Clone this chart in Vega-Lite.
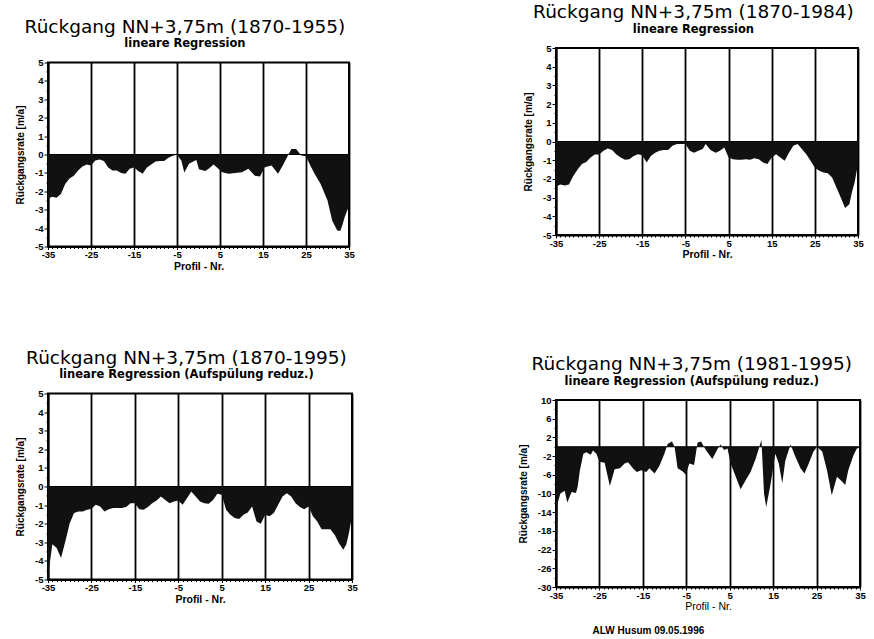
{
  "$schema": "https://vega.github.io/schema/vega-lite/v6.json",
  "background": "white",
  "padding": {"left": 14, "top": 2, "right": 2, "bottom": 0},
  "title": {"text": "ALW Husum 09.05.1996", "orient": "bottom", "anchor": "start", "dx": 578, "offset": 6,
    "font": "Liberation Sans", "fontSize": 10, "fontWeight": "bold", "color": "black", "frame": "bounds"},
  "datasets": {
    "d1": [
      {"p": -35, "v": -2.4}, {"p": -34, "v": -2.3}, {"p": -33, "v": -2.35}, {"p": -32, "v": -2.15}, {"p": -31, "v": -1.6},
      {"p": -30, "v": -1.3}, {"p": -29, "v": -1.15}, {"p": -28, "v": -0.87}, {"p": -27, "v": -0.65}, {"p": -26, "v": -0.55},
      {"p": -25, "v": -0.6}, {"p": -24, "v": -0.33}, {"p": -23, "v": -0.27}, {"p": -22, "v": -0.36}, {"p": -21, "v": -0.7},
      {"p": -20, "v": -0.87}, {"p": -19, "v": -0.87}, {"p": -18, "v": -1.0}, {"p": -17, "v": -1.05}, {"p": -16, "v": -0.78},
      {"p": -15, "v": -0.7}, {"p": -14, "v": -0.9}, {"p": -13, "v": -1.05}, {"p": -12, "v": -0.7}, {"p": -11, "v": -0.55},
      {"p": -10, "v": -0.38}, {"p": -9, "v": -0.36}, {"p": -8, "v": -0.36}, {"p": -7, "v": -0.18}, {"p": -6, "v": -0.07},
      {"p": -5, "v": -0.02}, {"p": -4, "v": -0.33}, {"p": -3.3, "v": -0.98}, {"p": -2.2, "v": -0.5}, {"p": -1, "v": -0.35},
      {"p": -0.5, "v": -0.3}, {"p": 0.1, "v": -0.8}, {"p": 1.6, "v": -0.9}, {"p": 2.5, "v": -0.75}, {"p": 3.5, "v": -0.55},
      {"p": 4.5, "v": -0.75}, {"p": 5.5, "v": -0.96}, {"p": 7, "v": -1.05}, {"p": 8.5, "v": -1.0}, {"p": 10.1, "v": -0.96},
      {"p": 11.6, "v": -0.78}, {"p": 13.1, "v": -1.15}, {"p": 14.3, "v": -1.2}, {"p": 15.4, "v": -0.69}, {"p": 17, "v": -0.6},
      {"p": 18.5, "v": -1.05}, {"p": 19.6, "v": -0.6}, {"p": 20.8, "v": -0.05}, {"p": 21.6, "v": 0.3}, {"p": 22.7, "v": 0.3},
      {"p": 23.9, "v": -0.05}, {"p": 25, "v": -0.1}, {"p": 26, "v": -0.6}, {"p": 27, "v": -1.05}, {"p": 28.4, "v": -1.6},
      {"p": 30, "v": -2.5}, {"p": 31.1, "v": -3.6}, {"p": 32.3, "v": -4.15}, {"p": 33, "v": -4.15}, {"p": 33.5, "v": -3.8},
      {"p": 34, "v": -3.4}, {"p": 35, "v": -2.8}
    ],
    "d2": [
      {"p": -35, "v": -2.4}, {"p": -34, "v": -2.3}, {"p": -33, "v": -2.35}, {"p": -32, "v": -2.3}, {"p": -31, "v": -1.85},
      {"p": -30, "v": -1.5}, {"p": -29, "v": -1.2}, {"p": -28, "v": -1.1}, {"p": -27, "v": -0.85}, {"p": -26, "v": -0.7},
      {"p": -25, "v": -0.7}, {"p": -24, "v": -0.5}, {"p": -23, "v": -0.37}, {"p": -22, "v": -0.45}, {"p": -21, "v": -0.7},
      {"p": -20, "v": -0.85}, {"p": -19, "v": -0.98}, {"p": -18, "v": -0.95}, {"p": -17, "v": -0.77}, {"p": -16, "v": -0.68},
      {"p": -15, "v": -0.73}, {"p": -14, "v": -1.12}, {"p": -13, "v": -0.77}, {"p": -12, "v": -0.6}, {"p": -11, "v": -0.5},
      {"p": -10, "v": -0.45}, {"p": -9, "v": -0.45}, {"p": -8, "v": -0.23}, {"p": -7, "v": -0.14}, {"p": -6, "v": -0.14},
      {"p": -5, "v": -0.14}, {"p": -4, "v": -0.5}, {"p": -3, "v": -0.6}, {"p": -2, "v": -0.5}, {"p": -1, "v": -0.4},
      {"p": -0.3, "v": -0.14}, {"p": 0.8, "v": -0.45}, {"p": 2, "v": -0.6}, {"p": 3, "v": -0.5}, {"p": 4, "v": -0.32},
      {"p": 5, "v": -0.85}, {"p": 6, "v": -0.95}, {"p": 7, "v": -0.98}, {"p": 8, "v": -0.98}, {"p": 9, "v": -0.95},
      {"p": 10, "v": -0.98}, {"p": 11, "v": -0.9}, {"p": 12, "v": -0.95}, {"p": 13, "v": -1.12}, {"p": 14, "v": -1.2},
      {"p": 15, "v": -0.85}, {"p": 16, "v": -0.68}, {"p": 17, "v": -0.85}, {"p": 18, "v": -1.03}, {"p": 19, "v": -0.6},
      {"p": 20, "v": -0.23}, {"p": 21, "v": -0.14}, {"p": 22, "v": -0.4}, {"p": 23, "v": -0.68}, {"p": 24, "v": -1.03},
      {"p": 25, "v": -1.4}, {"p": 26, "v": -1.57}, {"p": 27, "v": -1.66}, {"p": 28, "v": -1.7}, {"p": 29, "v": -1.93},
      {"p": 30, "v": -2.46}, {"p": 31, "v": -3.0}, {"p": 32, "v": -3.55}, {"p": 33, "v": -3.35}, {"p": 33.6, "v": -2.7},
      {"p": 34.2, "v": -2.2}, {"p": 35, "v": -1.2}
    ],
    "d3": [
      {"p": -35, "v": -4.85}, {"p": -34, "v": -3.1}, {"p": -33, "v": -3.3}, {"p": -32, "v": -3.85}, {"p": -31, "v": -2.95},
      {"p": -30, "v": -1.97}, {"p": -29, "v": -1.43}, {"p": -28, "v": -1.34}, {"p": -27, "v": -1.34}, {"p": -26, "v": -1.25},
      {"p": -25, "v": -1.2}, {"p": -24, "v": -0.98}, {"p": -23, "v": -1.07}, {"p": -22, "v": -1.34}, {"p": -21, "v": -1.22},
      {"p": -20, "v": -1.16}, {"p": -19, "v": -1.16}, {"p": -18, "v": -1.16}, {"p": -17, "v": -1.1}, {"p": -16, "v": -0.9},
      {"p": -15, "v": -0.9}, {"p": -14, "v": -1.22}, {"p": -13, "v": -1.25}, {"p": -12, "v": -1.1}, {"p": -11, "v": -0.9},
      {"p": -10, "v": -0.75}, {"p": -9, "v": -0.54}, {"p": -8, "v": -0.72}, {"p": -7, "v": -0.9}, {"p": -6, "v": -0.8},
      {"p": -5, "v": -0.75}, {"p": -4, "v": -0.98}, {"p": -3, "v": -0.63}, {"p": -2, "v": -0.27}, {"p": -1, "v": -0.54},
      {"p": 0, "v": -0.8}, {"p": 1, "v": -0.9}, {"p": 2, "v": -0.93}, {"p": 3, "v": -0.72}, {"p": 4, "v": -0.39},
      {"p": 5, "v": -0.45}, {"p": 6, "v": -1.25}, {"p": 7, "v": -1.52}, {"p": 8, "v": -1.7}, {"p": 9, "v": -1.75},
      {"p": 10, "v": -1.52}, {"p": 11, "v": -1.4}, {"p": 12, "v": -1.07}, {"p": 13, "v": -1.88}, {"p": 14, "v": -2.0},
      {"p": 15, "v": -1.52}, {"p": 16, "v": -1.6}, {"p": 17, "v": -1.43}, {"p": 18, "v": -0.98}, {"p": 19, "v": -0.54},
      {"p": 20, "v": -0.36}, {"p": 21, "v": -0.54}, {"p": 22, "v": -0.9}, {"p": 23, "v": -1.1}, {"p": 24, "v": -1.22},
      {"p": 25, "v": -1.07}, {"p": 26, "v": -1.6}, {"p": 27, "v": -1.88}, {"p": 28, "v": -2.3}, {"p": 29, "v": -2.3},
      {"p": 30, "v": -2.3}, {"p": 31, "v": -2.6}, {"p": 32, "v": -3.05}, {"p": 33, "v": -3.4}, {"p": 33.7, "v": -3.1},
      {"p": 34.3, "v": -2.5}, {"p": 35, "v": -1.6}
    ],
    "d4": [
      {"p": -35, "v": -29}, {"p": -34.6, "v": -12}, {"p": -34, "v": -10.0}, {"p": -33, "v": -9.4}, {"p": -32.4, "v": -11.9},
      {"p": -31.4, "v": -9.7}, {"p": -30.4, "v": -9.9}, {"p": -30, "v": -8.5}, {"p": -29.5, "v": -5.1}, {"p": -28.7, "v": -1.5},
      {"p": -28, "v": -1.2}, {"p": -27, "v": -1.7}, {"p": -26.5, "v": -0.8}, {"p": -25.7, "v": -1.5}, {"p": -25, "v": -3.2},
      {"p": -23.8, "v": -3.4}, {"p": -22.6, "v": -8.4}, {"p": -21.5, "v": -4.8}, {"p": -20.3, "v": -4.6}, {"p": -19.2, "v": -3.6},
      {"p": -18.4, "v": -3.3}, {"p": -17.3, "v": -4.6}, {"p": -16.4, "v": -5.4}, {"p": -15.4, "v": -5.0}, {"p": -14.2, "v": -5.4},
      {"p": -13.5, "v": -4.6}, {"p": -12.3, "v": -5.7}, {"p": -11.2, "v": -4.1}, {"p": -10, "v": -1.4}, {"p": -9.3, "v": 0.6},
      {"p": -8.3, "v": 1.1}, {"p": -7.7, "v": 0}, {"p": -7, "v": -4.6}, {"p": -5.8, "v": -5.3}, {"p": -5.1, "v": -6.0},
      {"p": -4.3, "v": -3.6}, {"p": -3.2, "v": -3.9}, {"p": -2.4, "v": 0.9}, {"p": -1.6, "v": 1.1}, {"p": -0.5, "v": -0.7},
      {"p": 1, "v": -2.6}, {"p": 2.2, "v": -0.5}, {"p": 2.9, "v": 0.5}, {"p": 3.7, "v": -0.7}, {"p": 4.5, "v": -0.4},
      {"p": 5.2, "v": -3.6}, {"p": 6.4, "v": -6.4}, {"p": 7.5, "v": -9.1}, {"p": 8.7, "v": -7.1}, {"p": 9.8, "v": -5.4},
      {"p": 11, "v": -2.5}, {"p": 11.9, "v": 0.2}, {"p": 12.3, "v": 1.5}, {"p": 12.9, "v": -10}, {"p": 13.4, "v": -12.9},
      {"p": 14.4, "v": -8.0}, {"p": 15.5, "v": -1.5}, {"p": 16.3, "v": -3.6}, {"p": 17.1, "v": -7.8}, {"p": 17.8, "v": -3.0},
      {"p": 19, "v": 0.5}, {"p": 20.1, "v": -2.1}, {"p": 21.3, "v": -4.6}, {"p": 22.2, "v": -5.7}, {"p": 23.2, "v": -3.6},
      {"p": 24.3, "v": -1.0}, {"p": 25.1, "v": 0}, {"p": 26.3, "v": -1.0}, {"p": 27.4, "v": -5.0}, {"p": 28.5, "v": -10.4},
      {"p": 29.7, "v": -6.4}, {"p": 30.8, "v": -7.4}, {"p": 31.6, "v": -8.2}, {"p": 32.3, "v": -5.0}, {"p": 33.5, "v": -1.8},
      {"p": 34.2, "v": -0.5}, {"p": 35, "v": 0}
    ],
    "zero": [{"z": 0}]
  },
  "config": {
    "view": {"stroke": "black", "strokeWidth": 2},
    "axis": {
      "domainColor": "black", "domainWidth": 2,
      "tickColor": "black", "tickWidth": 1,
      "labelFont": "Liberation Sans", "labelFontWeight": "bold", "labelFontSize": 9.5, "labelColor": "black",
      "labelOverlap": false, "labelFlush": false, "labelPadding": 1,
      "titleFont": "Liberation Sans", "titleFontWeight": "bold", "titleColor": "black"
    },
    "axisX": {"titleFontSize": 10.5, "titlePadding": 2, "labelPadding": 0},
    "axisY": {"titleFontSize": 10, "titlePadding": 9},
    "title": {
      "font": "DejaVu Sans", "fontSize": 18.5, "fontWeight": "normal", "color": "black",
      "subtitleFont": "DejaVu Sans", "subtitleFontWeight": "bold", "subtitleFontSize": 11.5, "subtitleColor": "black",
      "subtitlePadding": 2, "offset": 8, "frame": "bounds", "anchor": "middle"
    }
  },
  "spacing": 158,
  "center": true,
  "hconcat": [
    {
      "spacing": 75,
      "vconcat": [
        {
          "width": 301, "height": 184,
          "title": {"text": "Rückgang NN+3,75m (1870-1955)", "subtitle": "lineare Regression"},
          "layer": [
            {
              "data": {"name": "d1"},
              "mark": {"type": "area", "color": "#111111"},
              "encoding": {
                "x": {"field": "p", "type": "quantitative", "scale": {"domain": [-35, 35], "nice": false},
                  "axis": {"title": "Profil - Nr.", "labelOverlap": false, "tickCount": 100,
                    "values": [-35,-34,-33,-32,-31,-30,-29,-28,-27,-26,-25,-24,-23,-22,-21,-20,-19,-18,-17,-16,-15,-14,-13,-12,-11,-10,-9,-8,-7,-6,-5,-4,-3,-2,-1,0,1,2,3,4,5,6,7,8,9,10,11,12,13,14,15,16,17,18,19,20,21,22,23,24,25,26,27,28,29,30,31,32,33,34,35],
                    "labelExpr": "abs(datum.value) % 10 == 5 ? toString(datum.value) : ''",
                    "grid": true, "gridColor": "black", "gridWidth": 1.8,
                    "gridOpacity": {"condition": {"test": "abs(datum.value) % 10 == 5", "value": 1}, "value": 0},
                    "tickSize": {"condition": {"test": "abs(datum.value) % 10 == 5", "value": 3}, "value": 2}}},
                "y": {"field": "v", "type": "quantitative", "scale": {"domain": [-5, 5], "nice": false},
                  "axis": {"title": "Rückgangsrate [m/a]", "labelOverlap": false, "tickCount": 100,
                    "values": [-5,-4.5,-4,-3.5,-3,-2.5,-2,-1.5,-1,-0.5,0,0.5,1,1.5,2,2.5,3,3.5,4,4.5,5],
                    "labelExpr": "datum.value % 1 == 0 ? toString(datum.value) : ''",
                    "grid": false,
                    "tickSize": {"condition": {"test": "datum.value % 1 == 0", "value": 4}, "value": 2}}},
                "y2": {"datum": 0}
              }
            },
            {
              "data": {"name": "zero"},
              "mark": {"type": "rule", "color": "black", "strokeWidth": 1},
              "encoding": {"y": {"field": "z", "type": "quantitative"}}
            }
          ]
        },
        {
          "width": 304, "height": 186,
          "title": {"text": "Rückgang NN+3,75m (1870-1995)", "subtitle": "lineare Regression (Aufspülung reduz.)"},
          "layer": [
            {
              "data": {"name": "d3"},
              "mark": {"type": "area", "color": "#111111"},
              "encoding": {
                "x": {"field": "p", "type": "quantitative", "scale": {"domain": [-35, 35], "nice": false},
                  "axis": {"title": "Profil - Nr.", "labelOverlap": false, "tickCount": 100,
                    "values": [-35,-34,-33,-32,-31,-30,-29,-28,-27,-26,-25,-24,-23,-22,-21,-20,-19,-18,-17,-16,-15,-14,-13,-12,-11,-10,-9,-8,-7,-6,-5,-4,-3,-2,-1,0,1,2,3,4,5,6,7,8,9,10,11,12,13,14,15,16,17,18,19,20,21,22,23,24,25,26,27,28,29,30,31,32,33,34,35],
                    "labelExpr": "abs(datum.value) % 10 == 5 ? toString(datum.value) : ''",
                    "grid": true, "gridColor": "black", "gridWidth": 1.8,
                    "gridOpacity": {"condition": {"test": "abs(datum.value) % 10 == 5", "value": 1}, "value": 0},
                    "tickSize": {"condition": {"test": "abs(datum.value) % 10 == 5", "value": 3}, "value": 2}}},
                "y": {"field": "v", "type": "quantitative", "scale": {"domain": [-5, 5], "nice": false},
                  "axis": {"title": "Rückgangsrate [m/a]", "labelOverlap": false, "tickCount": 100,
                    "values": [-5,-4.5,-4,-3.5,-3,-2.5,-2,-1.5,-1,-0.5,0,0.5,1,1.5,2,2.5,3,3.5,4,4.5,5],
                    "labelExpr": "datum.value % 1 == 0 ? toString(datum.value) : ''",
                    "grid": false,
                    "tickSize": {"condition": {"test": "datum.value % 1 == 0", "value": 4}, "value": 2}}},
                "y2": {"datum": 0}
              }
            },
            {
              "data": {"name": "zero"},
              "mark": {"type": "rule", "color": "black", "strokeWidth": 1},
              "encoding": {"y": {"field": "z", "type": "quantitative"}}
            }
          ]
        }
      ]
    },
    {
      "spacing": 93,
      "vconcat": [
        {
          "width": 302, "height": 187,
          "title": {"text": "Rückgang NN+3,75m (1870-1984)", "subtitle": "lineare Regression"},
          "layer": [
            {
              "data": {"name": "d2"},
              "mark": {"type": "area", "color": "#111111"},
              "encoding": {
                "x": {"field": "p", "type": "quantitative", "scale": {"domain": [-35, 35], "nice": false},
                  "axis": {"title": "Profil - Nr.", "labelOverlap": false, "tickCount": 100,
                    "values": [-35,-34,-33,-32,-31,-30,-29,-28,-27,-26,-25,-24,-23,-22,-21,-20,-19,-18,-17,-16,-15,-14,-13,-12,-11,-10,-9,-8,-7,-6,-5,-4,-3,-2,-1,0,1,2,3,4,5,6,7,8,9,10,11,12,13,14,15,16,17,18,19,20,21,22,23,24,25,26,27,28,29,30,31,32,33,34,35],
                    "labelExpr": "abs(datum.value) % 10 == 5 ? toString(datum.value) : ''",
                    "grid": true, "gridColor": "black", "gridWidth": 1.8,
                    "gridOpacity": {"condition": {"test": "abs(datum.value) % 10 == 5", "value": 1}, "value": 0},
                    "tickSize": {"condition": {"test": "abs(datum.value) % 10 == 5", "value": 3}, "value": 2}}},
                "y": {"field": "v", "type": "quantitative", "scale": {"domain": [-5, 5], "nice": false},
                  "axis": {"title": "Rückgangsrate [m/a]", "labelOverlap": false, "tickCount": 100,
                    "values": [-5,-4.5,-4,-3.5,-3,-2.5,-2,-1.5,-1,-0.5,0,0.5,1,1.5,2,2.5,3,3.5,4,4.5,5],
                    "labelExpr": "datum.value % 1 == 0 ? toString(datum.value) : ''",
                    "grid": false,
                    "tickSize": {"condition": {"test": "datum.value % 1 == 0", "value": 4}, "value": 2}}},
                "y2": {"datum": 0}
              }
            },
            {
              "data": {"name": "zero"},
              "mark": {"type": "rule", "color": "black", "strokeWidth": 1},
              "encoding": {"y": {"field": "z", "type": "quantitative"}}
            }
          ]
        },
        {
          "width": 304, "height": 187,
          "title": {"text": "Rückgang NN+3,75m (1981-1995)", "subtitle": "lineare Regression (Aufspülung reduz.)"},
          "layer": [
            {
              "data": {"name": "d4"},
              "mark": {"type": "area", "color": "#111111"},
              "encoding": {
                "x": {"field": "p", "type": "quantitative", "scale": {"domain": [-35, 35], "nice": false},
                  "axis": {"title": ["Profil - Nr.", ""], "titleLineHeight": 7, "titleFontWeight": "normal", "labelOverlap": false, "tickCount": 100,
                    "values": [-35,-34,-33,-32,-31,-30,-29,-28,-27,-26,-25,-24,-23,-22,-21,-20,-19,-18,-17,-16,-15,-14,-13,-12,-11,-10,-9,-8,-7,-6,-5,-4,-3,-2,-1,0,1,2,3,4,5,6,7,8,9,10,11,12,13,14,15,16,17,18,19,20,21,22,23,24,25,26,27,28,29,30,31,32,33,34,35],
                    "labelExpr": "abs(datum.value) % 10 == 5 ? toString(datum.value) : ''",
                    "grid": true, "gridColor": "black", "gridWidth": 1.8,
                    "gridOpacity": {"condition": {"test": "abs(datum.value) % 10 == 5", "value": 1}, "value": 0},
                    "tickSize": {"condition": {"test": "abs(datum.value) % 10 == 5", "value": 3}, "value": 2}}},
                "y": {"field": "v", "type": "quantitative", "scale": {"domain": [-30, 10], "nice": false},
                  "axis": {"title": "Rückgangsrate [m/a]", "labelOverlap": false, "tickCount": 100,
                    "values": [-30,-28,-26,-24,-22,-20,-18,-16,-14,-12,-10,-8,-6,-4,-2,0,2,4,6,8,10],
                    "labelExpr": "(datum.value - 10) % 4 == 0 ? toString(datum.value) : ''",
                    "grid": false,
                    "tickSize": {"condition": {"test": "(datum.value - 10) % 4 == 0", "value": 4}, "value": 2}}},
                "y2": {"datum": 0}
              }
            },
            {
              "data": {"name": "zero"},
              "mark": {"type": "rule", "color": "black", "strokeWidth": 1},
              "encoding": {"y": {"field": "z", "type": "quantitative"}}
            }
          ]
        }
      ]
    }
  ]
}
